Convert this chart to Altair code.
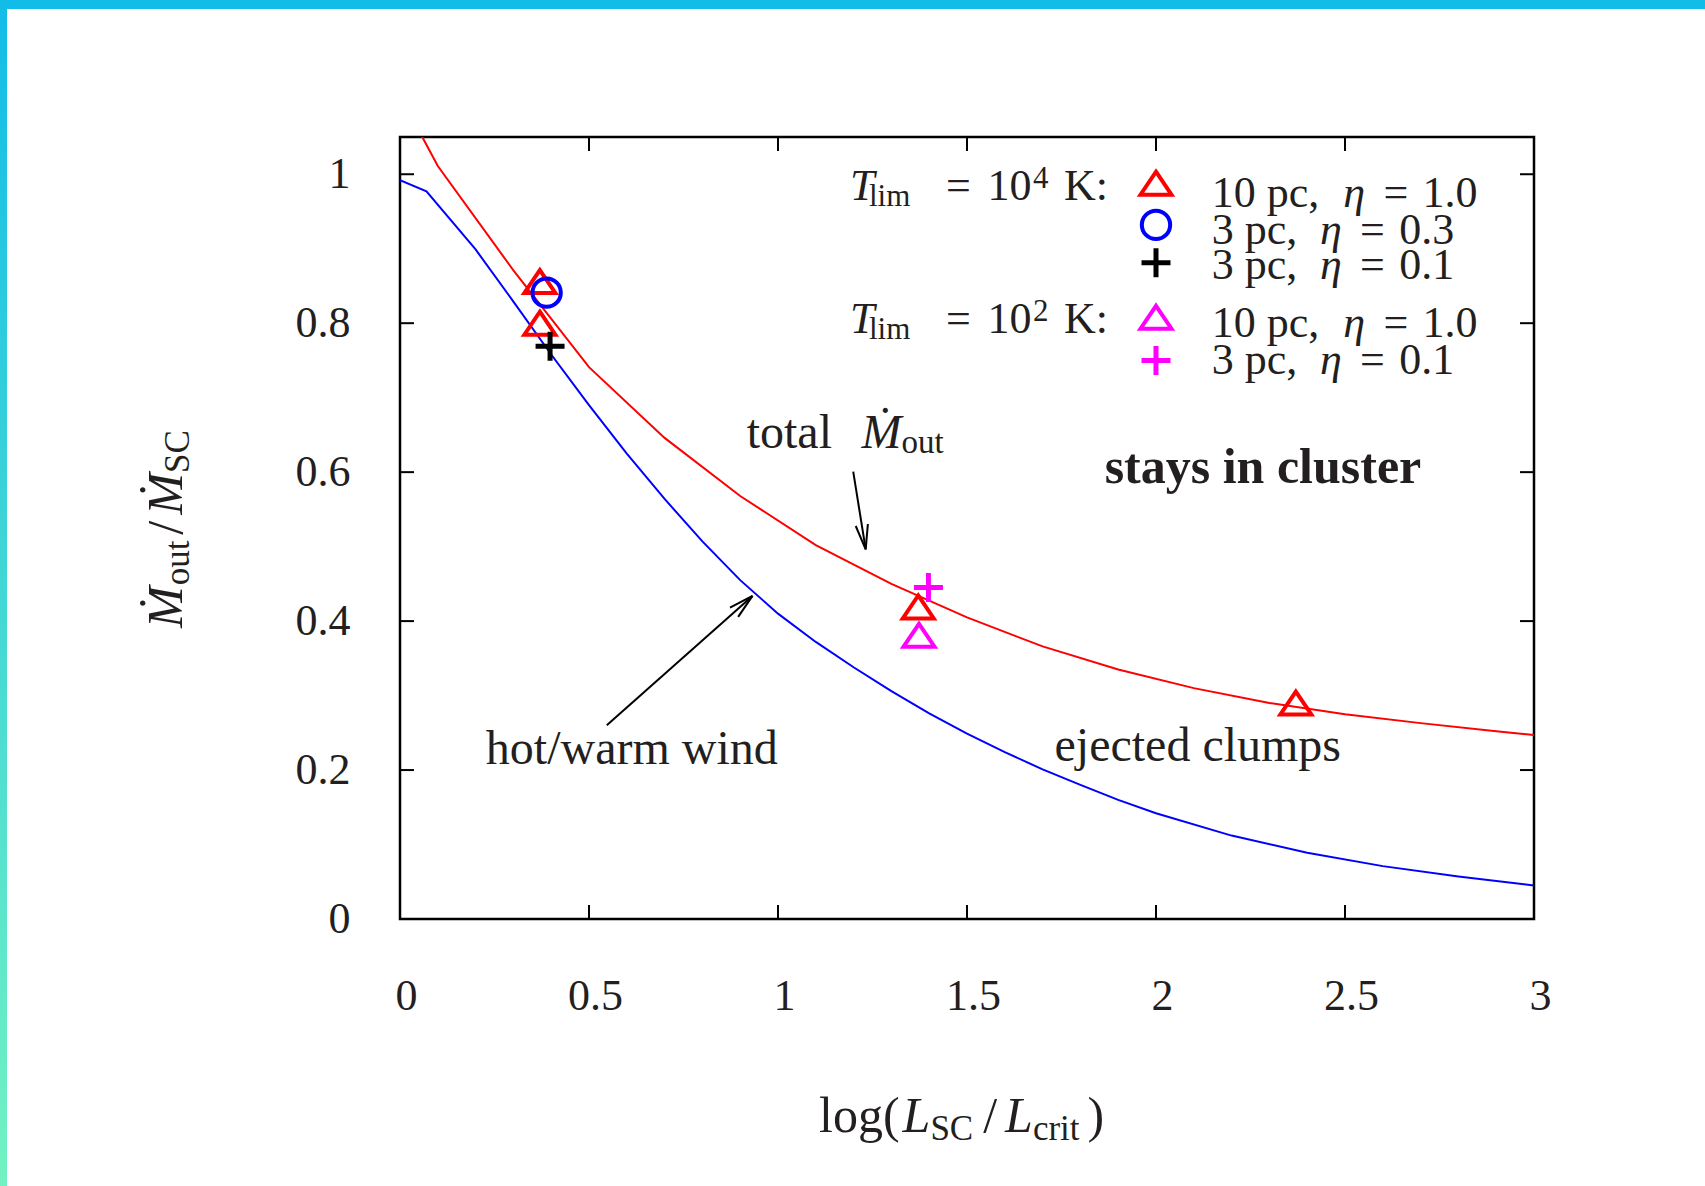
import math
import altair as alt
import pandas as pd

# ---------------- layout constants ----------------
W, H = 1134, 782
PAD = {"left": 400, "top": 137, "right": 171, "bottom": 267}
FONT = "Liberation Serif"
INK = "#231f20"
X_DOM = [0, 3]
Y_DOM = [0, 1.05]
FS, FSS = 44, 31          # key text main / sub-script font sizes
FA = 48                   # annotation font size
FB = 50                   # bold annotation font size
FT, FTS = 50, 35          # axis-title font sizes
FL = 44                   # tick-label font size

# ---------------- data ----------------
x_ticks = [0, 0.5, 1, 1.5, 2, 2.5, 3]
y_ticks = [0, 0.2, 0.4, 0.6, 0.8, 1]

# hot/warm wind (blue)
hot_x = [0, 0.07, 0.2, 0.3, 0.4, 0.5, 0.6, 0.7, 0.8, 0.9, 1.0, 1.1, 1.2, 1.3, 1.4,
         1.5, 1.6, 1.7, 1.8, 1.9, 2.0, 2.2, 2.4, 2.6, 2.8, 3.0]
hot_y = [0.992, 0.977, 0.899, 0.829, 0.758, 0.690, 0.625, 0.564, 0.507, 0.455, 0.410,
         0.372, 0.338, 0.306, 0.276, 0.249, 0.224, 0.201, 0.180, 0.160, 0.142, 0.112,
         0.089, 0.071, 0.057, 0.045]
# total Mdot_out (red)
tot_x = [0, 0.1, 0.3, 0.5, 0.7, 0.9, 1.1, 1.3, 1.5, 1.7, 1.9, 2.1, 2.3, 2.5, 2.7, 2.9, 3.0]
tot_y = [1.106, 1.011, 0.871, 0.741, 0.646, 0.568, 0.502, 0.450, 0.405, 0.366, 0.335,
         0.310, 0.290, 0.275, 0.263, 0.252, 0.247]

# simulation points
red_tri_x = [0.370, 0.370, 1.371, 2.370]
red_tri_y = [0.856, 0.800, 0.419, 0.290]
blue_circ_x = [0.388]
blue_circ_y = [0.841]
black_plus_x = [0.397]
black_plus_y = [0.769]
mag_tri_x = [1.373]
mag_tri_y = [0.381]
mag_plus_x = [1.398]
mag_plus_y = [0.445]

# key sample symbols
key_x = 2.0
key_y = [0.988, 0.932, 0.881, 0.808, 0.750]

# text pieces: text, x, y, font size, style (n/i/b), align (l/c), angle
key_rows = [0.9566, 0.9064, 0.8594, 0.7814, 0.7318]
key_lab = [("10 pc,", "1.0"), ("3 pc,", "0.3"), ("3 pc,", "0.1"), ("10 pc,", "1.0"), ("3 pc,", "0.1")]
key_eta_x = {"10 pc,": (2.5243, 2.6344, 2.7778), "3 pc,": (2.4624, 2.5728, 2.7161)}

txt = []
for yb, sup in [(0.9654, "4"), (0.7868, "2")]:
    txt += [
        ("T", 1.1905, yb, FS, "i", "l", 0),
        ("lim", 1.2407, yb - 0.0081, FSS, "n", "l", 0),
        ("=", 1.4775, yb, FS, "n", "c", 0),
        ("10", 1.6124, yb, FS, "n", "c", 0),
        (sup, 1.6746, yb + 0.0161, FSS, "n", "l", 0),
        ("K:", 1.8148, yb, FS, "n", "c", 0),
    ]
for yb, (lab, val) in zip(key_rows, key_lab):
    ex, qx, vx = key_eta_x[lab]
    txt += [
        (lab, 2.1473, yb, FS, "n", "l", 0),
        ("η", ex, yb, FS, "i", "c", 0),
        ("=", qx, yb, FS, "n", "c", 0),
        (val, vx, yb, FS, "n", "c", 0),
    ]
txt += [
    # annotations
    ("total", 1.030, 0.632, FA, "n", "c", 0),
    ("Ṁ", 1.274, 0.632, FA, "i", "c", 0),
    ("out", 1.327, 0.6253, 33, "n", "l", 0),
    ("stays in cluster", 2.283, 0.5854, FB, "b", "c", 0),
    ("hot/warm wind", 0.6132, 0.2081, FA, "n", "c", 0),
    ("ejected clumps", 2.1105, 0.2121, FA, "n", "c", 0),
    # x axis title: log(L_SC / L_crit)
    ("log(", 1.1085, -0.286, FT, "n", "l", 0),
    ("L", 1.3296, -0.286, FT, "i", "l", 0),
    ("SC", 1.4032, -0.2967, FTS, "n", "l", 0),
    ("/", 1.5429, -0.286, FT, "n", "l", 0),
    ("L", 1.6008, -0.286, FT, "i", "l", 0),
    ("crit", 1.6743, -0.2967, FTS, "n", "l", 0),
    (")", 1.8190, -0.286, FT, "n", "l", 0),
    # y axis title: Mdot_out / Mdot_SC (rotated, reading upwards)
    ("Ṁ", -0.5775, 0.3907, FT, "i", "l", 270),
    ("out", -0.5590, 0.4480, FTS, "n", "l", 270),
    ("/", -0.5775, 0.5161, FT, "n", "l", 270),
    ("Ṁ", -0.5775, 0.5428, FT, "i", "l", 270),
    ("SC", -0.5590, 0.5988, FTS, "n", "l", 270),
]

# arrows: (x_start, y_start, x_tip, y_tip)
arrows = [
    (1.199, 0.6006, 1.232, 0.4964),
    (0.547, 0.260, 0.9325, 0.4338),
]

# ---------------- encodings ----------------
xscale = alt.Scale(domain=X_DOM, nice=False, zero=False)
yscale = alt.Scale(domain=Y_DOM, nice=False, zero=False)
xaxis = alt.Axis(values=x_ticks, labelExpr="'' + datum.value", title=None, domain=False,
                 ticks=False, tickSize=0, grid=False, labelFont=FONT, labelFontSize=FL,
                 labelColor=INK, labelPadding=90, labelBaseline="alphabetic", labelOffset=6,
                 labelFlush=False, labelOverlap=False, labelAlign="center")
yaxis = alt.Axis(values=y_ticks, labelExpr="'' + datum.value", title=None, domain=False,
                 ticks=False, tickSize=0, grid=False, labelFont=FONT, labelFontSize=FL,
                 labelColor=INK, labelPadding=50, labelBaseline="middle", labelAlign="right",
                 labelFlush=False, labelOverlap=False)
X = alt.X("x:Q", scale=xscale, axis=xaxis)
Y = alt.Y("y:Q", scale=yscale, axis=yaxis)

layers = []

# decorative frame of the page
one = pd.DataFrame({"k": [0]})
layers.append(alt.Chart(one).mark_rect(fill="#12bce8").encode(
    x=alt.value(-PAD["left"]), x2=alt.value(W + PAD["right"]),
    y=alt.value(-PAD["top"]), y2=alt.value(-PAD["top"] + 9)))
grad = alt.Gradient(gradient="linear",
                    stops=[alt.GradientStop(color="#12bce8", offset=0),
                           alt.GradientStop(color="#72f2c2", offset=1)],
                    x1=0, x2=0, y1=0, y2=1)
layers.append(alt.Chart(one).mark_rect(fill=grad).encode(
    x=alt.value(-PAD["left"]), x2=alt.value(-PAD["left"] + 7),
    y=alt.value(-PAD["top"]), y2=alt.value(H + PAD["bottom"])))

# curves
curves = pd.DataFrame({
    "x": hot_x + tot_x,
    "y": hot_y + tot_y,
    "series": ["hot"] * len(hot_x) + ["total"] * len(tot_x),
})
layers.append(alt.Chart(curves).mark_line(clip=True, strokeWidth=2).encode(
    x=X, y=Y,
    color=alt.Color("series:N", scale=alt.Scale(domain=["hot", "total"],
                                                range=["#0000ff", "#ff0000"]), legend=None),
    detail="series:N"))

# inward ticks on all four sides
xt = alt.Chart(pd.DataFrame({"x": x_ticks}))
yt = alt.Chart(pd.DataFrame({"y": y_ticks}))
TL = 14
layers.append(xt.mark_rule(color="black", strokeWidth=2).encode(x=X, y=alt.value(H), y2=alt.value(H - TL)))
layers.append(xt.mark_rule(color="black", strokeWidth=2).encode(x=X, y=alt.value(0), y2=alt.value(TL)))
layers.append(yt.mark_rule(color="black", strokeWidth=2).encode(y=Y, x=alt.value(0), x2=alt.value(TL)))
layers.append(yt.mark_rule(color="black", strokeWidth=2).encode(y=Y, x=alt.value(W), x2=alt.value(W - TL)))

# arrows
ar = pd.DataFrame(arrows, columns=["x", "y", "x2", "y2"])
layers.append(alt.Chart(ar).mark_rule(color="black", strokeWidth=2).encode(
    x=X, y=Y, x2="x2:Q", y2="y2:Q"))
pxu = W / (X_DOM[1] - X_DOM[0])
pyu = H / (Y_DOM[1] - Y_DOM[0])
heads = pd.DataFrame({
    "x": [a[2] for a in arrows],
    "y": [a[3] for a in arrows],
    "ang": [math.degrees(math.atan2((a[2] - a[0]) * pxu, (a[3] - a[1]) * pyu)) % 360
            for a in arrows],
})
HEAD = "M-0.5,2L0,0L0.5,2"
layers.append(alt.Chart(heads).mark_point(shape=HEAD, filled=False, color="black",
                                          strokeWidth=2, size=605, opacity=1).encode(
    x=X, y=Y, angle=alt.Angle("ang:Q", scale=None)))

# symbols
TRI = "M0,-0.74L1,0.74L-1,0.74Z"
PLUS = "M-1,0L1,0M0,-1L0,1"


def sym(xs, ys, shape, color, size, sw):
    df = pd.DataFrame({"x": xs, "y": ys})
    return alt.Chart(df).mark_point(shape=shape, filled=False, color=color,
                                    strokeWidth=sw, size=size, opacity=1).encode(x=X, y=Y)


layers.append(sym(red_tri_x + [key_x], red_tri_y + [key_y[0]], TRI, "#ff0000", 961, 4))
layers.append(sym(blue_circ_x + [key_x], blue_circ_y + [key_y[1]], "circle", "#0000ff", 801, 4))
layers.append(sym(black_plus_x + [key_x], black_plus_y + [key_y[2]], PLUS, "#000000", 841, 5))
layers.append(sym(mag_tri_x + [key_x], mag_tri_y + [key_y[3]], TRI, "#ff00ff", 961, 4))
layers.append(sym(mag_plus_x + [key_x], mag_plus_y + [key_y[4]], PLUS, "#ff00ff", 841, 5))

# text
tdf = pd.DataFrame(txt, columns=["t", "x", "y", "s", "st", "al", "ang"])
STY = {"n": ("normal", "normal"), "i": ("italic", "normal"), "b": ("normal", "bold")}
ALN = {"l": "left", "c": "center"}
for (st, al, ang), g in tdf.groupby(["st", "al", "ang"]):
    fs, fw = STY[st]
    layers.append(alt.Chart(g).mark_text(font=FONT, fontStyle=fs, fontWeight=fw,
                                         align=ALN[al], baseline="alphabetic",
                                         angle=int(ang), color=INK).encode(
        x=X, y=Y, text="t:N", size=alt.Size("s:Q", scale=None, legend=None)))

chart = alt.layer(*layers).properties(
    width=W, height=H, padding=PAD,
    autosize=alt.AutoSizeParams(type="none"),
    background="white",
).configure_view(stroke="black", strokeWidth=2.5, fill="white")

chart.save("out.html", embed_options={"renderer": "svg", "actions": False})
